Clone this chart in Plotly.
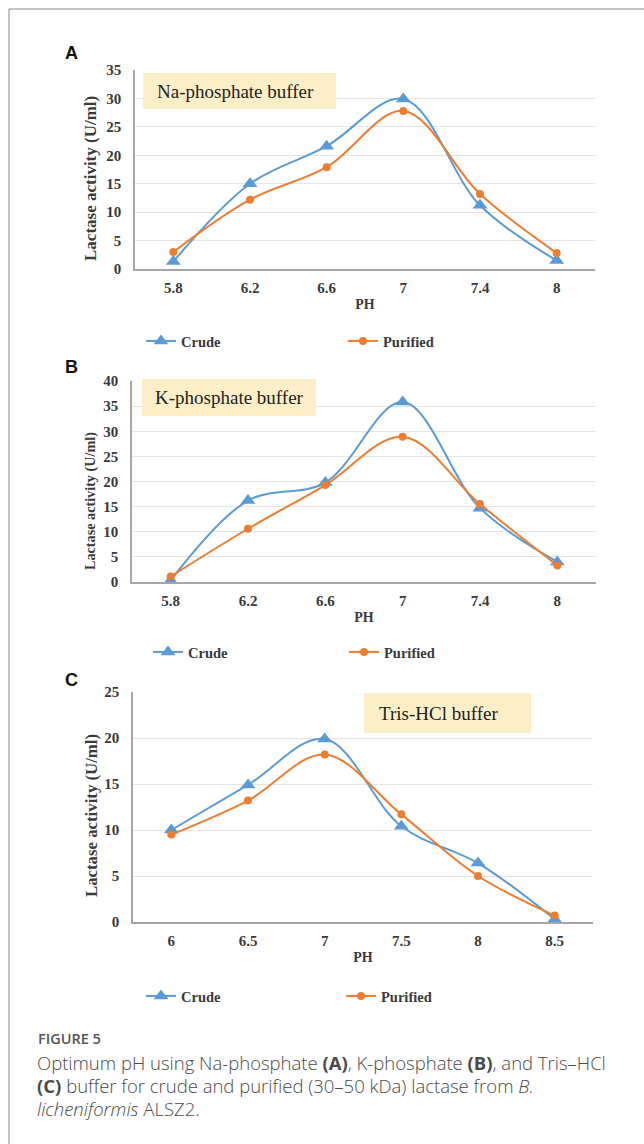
import plotly.graph_objects as go

W, H = 644, 1144

# ---------------- data ----------------
ph_ab = ["5.8", "6.2", "6.6", "7", "7.4", "8"]
ph_c = ["6", "6.5", "7", "7.5", "8", "8.5"]

na_crude = [1.3, 15.0, 21.6, 29.9, 11.2, 1.5]
na_purified = [3.0, 12.2, 17.9, 27.8, 13.2, 2.8]

k_crude = [0.3, 16.2, 19.8, 35.8, 14.7, 4.0]
k_purified = [1.1, 10.6, 19.3, 28.9, 15.5, 3.3]

tris_crude = [10.0, 14.9, 19.9, 10.4, 6.4, 0.3]
tris_purified = [9.5, 13.2, 18.2, 11.7, 5.0, 0.7]

y_ranges = [35, 40, 25]
buffer_names = ["Na-phosphate buffer", "K-phosphate buffer", "Tris-HCl buffer"]
panel_letters = ["A", "B", "C"]
series_names = ["Crude", "Purified"]
x_title = "PH"
y_title = "Lactase activity (U/ml)"

# ---------------- helpers ----------------
def px(x):
    return x / W

def py(y):
    return 1 - y / H

BLUE = "#5b9bd5"
ORANGE = "#ed7d31"
SERIF = "Liberation Serif"
TXT = "#3a3a3a"

# panel geometry in pixels
panels = [
    dict(l=135, r=595, t=70, b=269, box=(143, 336, 73, 109), tx=155,
         leg_y=341, leg_x=(151, 353), letter_y=53, yt=(90, 178, 17)),
    dict(l=132, r=596, t=381, b=582, box=(142, 316, 379, 416), tx=153,
         leg_y=652, leg_x=(158, 354), letter_y=367, yt=(90, 501, 14.2)),
    dict(l=133, r=593, t=692, b=922, box=(364, 531, 693, 733), tx=377,
         leg_y=996, leg_x=(151, 351), letter_y=680, yt=(91, 816, 16.8)),
]

datasets = [
    (ph_ab, na_crude, na_purified),
    (ph_ab, k_crude, k_purified),
    (ph_c, tris_crude, tris_purified),
]

fig = go.Figure()
layout = dict(
    width=W, height=H,
    margin=dict(l=0, r=0, t=0, b=0, pad=0),
    paper_bgcolor="white", plot_bgcolor="white",
    showlegend=True,
)
shapes = []
annotations = []

legend_idx = 0
for i, (p, (cats, crude, purified)) in enumerate(zip(panels, datasets)):
    n = "" if i == 0 else str(i + 1)
    xa, ya = "x" + n, "y" + n

    for j, (name, vals, color, sym, size) in enumerate([
        (series_names[0], crude, BLUE, "triangle-up", 13),
        (series_names[1], purified, ORANGE, "circle", 8),
    ]):
        legend_idx += 1
        lg = "legend" if legend_idx == 1 else "legend" + str(legend_idx)
        fig.add_trace(go.Scatter(
            x=cats, y=vals, name=name, mode="lines+markers",
            line=dict(color=color, width=2, shape="spline", smoothing=1.0),
            marker=dict(color=color, symbol=sym, size=size),
            xaxis=xa, yaxis=ya, legend=lg, cliponaxis=False,
        ))
        layout[lg] = dict(
            x=px(p["leg_x"][j] - 10), y=py(p["leg_y"]),
            xanchor="left", yanchor="middle",
            orientation="h", bgcolor="rgba(0,0,0,0)", borderwidth=0,
            font=dict(family=SERIF, size=14.5, color=TXT, weight="bold"),
            itemclick=False, itemdoubleclick=False,
        )

    layout["xaxis" + n] = dict(
        domain=[px(p["l"]), px(p["r"])], anchor=ya,
        type="category", range=[-0.5, 5.5],
        showgrid=False, showline=True, linecolor="#a6a6a6", linewidth=1.5,
        ticks="outside", ticklen=4, tickcolor="rgba(0,0,0,0)",
        tickfont=dict(family=SERIF, size=15, color=TXT, weight="bold"),
        title=dict(text=x_title, standoff=4,
                   font=dict(family=SERIF, size=14, color=TXT, weight="bold")),
        automargin=False, fixedrange=True,
    )
    layout["yaxis" + n] = dict(
        domain=[py(p["b"]), py(p["t"])], anchor=xa,
        range=[0, y_ranges[i]], dtick=5,
        showgrid=True, gridcolor="#e4e4e4", gridwidth=1,
        zeroline=False, showline=True, linecolor="#a6a6a6", linewidth=1.5,
        ticks="outside", ticklen=9, tickcolor="rgba(0,0,0,0)",
        tickfont=dict(family=SERIF, size=15, color=TXT, weight="bold"),
        automargin=False, fixedrange=True,
    )

    # y-axis title
    ytx, yty, yts = p["yt"]
    annotations.append(dict(text=y_title, xref="paper", yref="paper",
                            x=px(ytx), y=py(yty), xanchor="center", yanchor="middle",
                            textangle=-90, showarrow=False,
                            font=dict(family=SERIF, size=yts, color=TXT, weight="bold")))

    # buffer label box
    bx0, bx1, by0, by1 = p["box"]
    shapes.append(dict(type="rect", xref="paper", yref="paper",
                       x0=px(bx0), x1=px(bx1), y0=py(by1), y1=py(by0),
                       fillcolor="#fcefc7", line=dict(width=0), layer="above"))
    annotations.append(dict(text=buffer_names[i], xref="paper", yref="paper",
                            x=px(p["tx"]), y=py((by0 + by1) / 2),
                            xanchor="left", yanchor="middle", showarrow=False,
                            font=dict(family=SERIF, size=19, color="#222222")))
    # panel letter
    annotations.append(dict(text="<b>" + panel_letters[i] + "</b>", xref="paper", yref="paper",
                            x=px(71), y=py(p["letter_y"]), xanchor="center", yanchor="middle",
                            showarrow=False,
                            font=dict(family="Liberation Sans", size=18, color="#111111")))

# figure border
shapes.append(dict(type="line", xref="paper", yref="paper", x0=px(9), x1=1.0,
                   y0=py(9), y1=py(9), line=dict(color="#b0b0b0", width=1.5)))
shapes.append(dict(type="line", xref="paper", yref="paper", x0=px(9), x1=px(9),
                   y0=py(9), y1=0.0, line=dict(color="#b0b0b0", width=1.5)))

# caption
CAP = "Open Sans"
annotations.append(dict(text="FIGURE 5", xref="paper", yref="paper",
                        x=px(36), y=py(1038), xanchor="left", yanchor="middle",
                        showarrow=False,
                        font=dict(family=CAP, size=14.5, color="#555555", weight=600)))
cap_lines = [
    "Optimum pH using Na-phosphate <b>(A)</b>, K-phosphate <b>(B)</b>, and Tris\u2013HCl",
    "<b>(C)</b> buffer for crude and purified (30\u201350 kDa) lactase from <i>B.</i>",
    "<i>licheniformis</i> ALSZ2.",
]
for k, line in enumerate(cap_lines):
    annotations.append(dict(text=line, xref="paper", yref="paper",
                            x=px(35), y=py(1062 + 23 * k), xanchor="left", yanchor="middle",
                            showarrow=False,
                            font=dict(family=CAP, size=18.5, color="#4a4a4a", weight=300)))

layout["shapes"] = shapes
layout["annotations"] = annotations
fig.update_layout(**layout)

fig.write_html("out.html")
